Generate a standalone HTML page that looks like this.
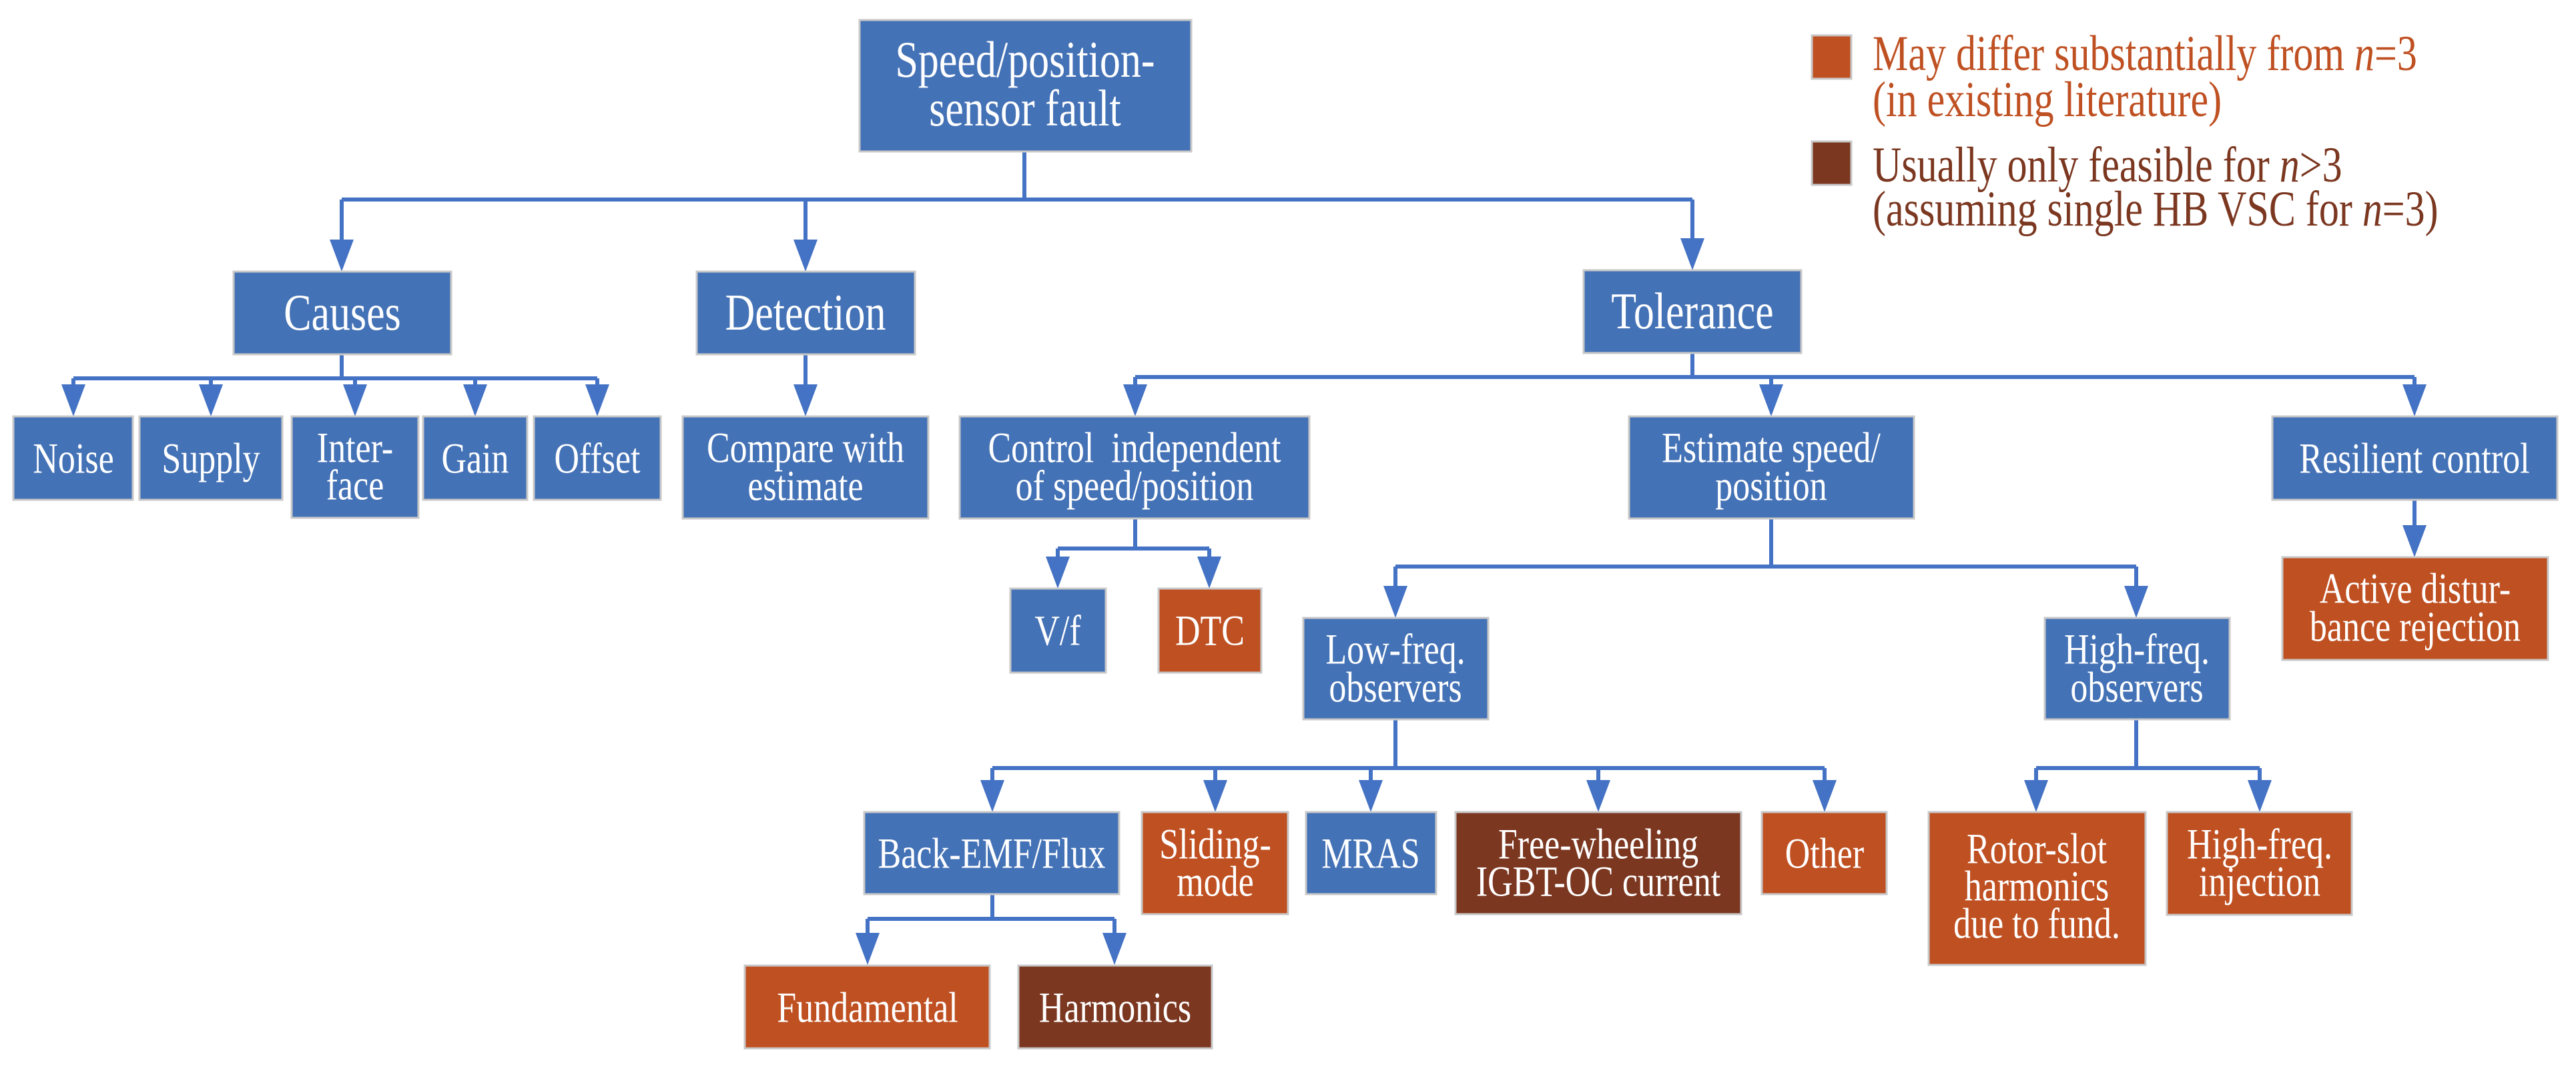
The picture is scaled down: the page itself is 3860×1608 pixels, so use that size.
<!DOCTYPE html>
<html><head><meta charset="utf-8"><style>
html,body{margin:0;padding:0;background:#fff;}
svg{display:block;}
text{font-family:"Liberation Serif",serif;transform-box:fill-box;transform-origin:center;transform:scaleY(1.25);}
</style></head><body>
<svg width="3860" height="1608" viewBox="0 0 3860 1608" xmlns="http://www.w3.org/2000/svg" font-family="'Liberation Serif', serif">
<defs>
<style>
.b{fill:#4472B6;stroke:#c8c8c8;stroke-width:3}
.o{fill:#BF5022;stroke:#c8c8c8;stroke-width:3}
.d{fill:#7B3720;stroke:#c8c8c8;stroke-width:3}
.l{stroke:#4472C4;stroke-width:6;fill:none}
.a{fill:#4472C4}
.t{fill:#fff;font-size:52px;text-anchor:middle;font-family:"Liberation Serif",serif}
.T{fill:#fff;font-size:62px;text-anchor:middle;font-family:"Liberation Serif",serif}
</style>
</defs>
<g class="l">
<path d="M1535 227V299M512 299H2536M512 299V360M1207 299V360M2536 299V358"/>
<path d="M512 531V567M110 567H895M110 567V577M316 567V577M532 567V577M712 567V577M895 567V577"/>
<path d="M1207 531V577"/>
<path d="M2536 529V565M1701 565H3618M1701 565V577M2654 565V577M3618 565V577"/>
<path d="M1701 777V822M1585 822H1812M1585 822V835M1812 822V835"/>
<path d="M2654 777V849M2091 849H3201M2091 849V879M3201 849V879"/>
<path d="M3618 749V788"/>
<path d="M2091 1078V1151M1487 1151H2734M1487 1151V1170M1821 1151V1170M2054 1151V1170M2395 1151V1170M2734 1151V1170"/>
<path d="M3201 1078V1151M3051 1151H3386M3051 1151V1170M3386 1151V1170"/>
<path d="M1487 1340V1377M1300 1377H1670M1300 1377V1399M1670 1377V1399"/>
</g>
<g class="a">
<polygon points="494,359 530,359 512,407"/>
<polygon points="1189,359 1225,359 1207,407"/>
<polygon points="2518,357 2554,357 2536,405"/>
<polygon points="92,576 128,576 110,624"/>
<polygon points="298,576 334,576 316,624"/>
<polygon points="514,576 550,576 532,624"/>
<polygon points="694,576 730,576 712,624"/>
<polygon points="877,576 913,576 895,624"/>
<polygon points="1189,576 1225,576 1207,624"/>
<polygon points="1683,576 1719,576 1701,624"/>
<polygon points="2636,576 2672,576 2654,624"/>
<polygon points="3600,576 3636,576 3618,624"/>
<polygon points="1567,834 1603,834 1585,882"/>
<polygon points="1794,834 1830,834 1812,882"/>
<polygon points="2073,878 2109,878 2091,926"/>
<polygon points="3183,878 3219,878 3201,926"/>
<polygon points="3600,787 3636,787 3618,835"/>
<polygon points="1469,1169 1505,1169 1487,1217"/>
<polygon points="1803,1169 1839,1169 1821,1217"/>
<polygon points="2036,1169 2072,1169 2054,1217"/>
<polygon points="2377,1169 2413,1169 2395,1217"/>
<polygon points="2716,1169 2752,1169 2734,1217"/>
<polygon points="3033,1169 3069,1169 3051,1217"/>
<polygon points="3368,1169 3404,1169 3386,1217"/>
<polygon points="1282,1398 1318,1398 1300,1446"/>
<polygon points="1652,1398 1688,1398 1670,1446"/>
</g>
<rect class="b" x="1288" y="30" width="497" height="197"/>
<text class="T" x="1536" y="110">Speed/position-</text>
<text class="T" x="1536" y="183">sensor fault</text>

<rect class="b" x="350" y="407" width="326" height="124"/>
<text class="T" x="513" y="489">Causes</text>
<rect class="b" x="1044" y="407" width="327" height="124"/>
<text class="T" x="1207" y="489">Detection</text>
<rect class="b" x="2373" y="405" width="326" height="124"/>
<text class="T" x="2536" y="487">Tolerance</text>

<rect class="b" x="20" y="624" width="179" height="125"/>
<text class="t" x="110" y="704">Noise</text>
<rect class="b" x="209" y="624" width="214" height="125"/>
<text class="t" x="316" y="704">Supply</text>
<rect class="b" x="437" y="624" width="190" height="152"/>
<text class="t" x="532" y="688">Inter-</text>
<text class="t" x="532" y="744">face</text>
<rect class="b" x="634" y="624" width="156" height="125"/>
<text class="t" x="712" y="704">Gain</text>
<rect class="b" x="800" y="624" width="190" height="125"/>
<text class="t" x="895" y="704">Offset</text>

<rect class="b" x="1023" y="624" width="368" height="153"/>
<text class="t" x="1207" y="688">Compare with</text>
<text class="t" x="1207" y="745">estimate</text>
<rect class="b" x="1438" y="624" width="524" height="153"/>
<text class="t" x="1700" y="688" xml:space="preserve">Control  independent</text>
<text class="t" x="1700" y="745">of speed/position</text>
<rect class="b" x="2441" y="624" width="427" height="153"/>
<text class="t" x="2654" y="688">Estimate speed/</text>
<text class="t" x="2654" y="745">position</text>
<rect class="b" x="3405" y="624" width="427" height="125"/>
<text class="t" x="3618" y="704">Resilient control</text>

<rect class="b" x="1514" y="882" width="143" height="126"/>
<text class="t" x="1585" y="962">V/f</text>
<rect class="o" x="1736" y="882" width="154" height="126"/>
<text class="t" x="1813" y="962">DTC</text>

<rect class="b" x="1953" y="926" width="277" height="152"/>
<text class="t" x="2091" y="990">Low-freq.</text>
<text class="t" x="2091" y="1047">observers</text>
<rect class="b" x="3064" y="926" width="277" height="152"/>
<text class="t" x="3202" y="990">High-freq.</text>
<text class="t" x="3202" y="1047">observers</text>
<rect class="o" x="3420" y="835" width="398" height="154"/>
<text class="t" x="3619" y="899">Active distur-</text>
<text class="t" x="3619" y="956">bance rejection</text>

<rect class="b" x="1295" y="1217" width="382" height="123"/>
<text class="t" x="1486" y="1296">Back-EMF/Flux</text>
<rect class="o" x="1711" y="1217" width="219" height="153"/>
<text class="t" x="1821" y="1282">Sliding-</text>
<text class="t" x="1821" y="1338">mode</text>
<rect class="b" x="1957" y="1217" width="195" height="123"/>
<text class="t" x="2054" y="1296">MRAS</text>
<rect class="d" x="2181" y="1217" width="428" height="153"/>
<text class="t" x="2395" y="1282">Free-wheeling</text>
<text class="t" x="2395" y="1338">IGBT-OC current</text>
<rect class="o" x="2640" y="1217" width="187" height="123"/>
<text class="t" x="2734" y="1296">Other</text>
<rect class="o" x="2890" y="1217" width="325" height="229"/>
<text class="t" x="3052" y="1289">Rotor-slot</text>
<text class="t" x="3052" y="1345">harmonics</text>
<text class="t" x="3052" y="1401">due to fund.</text>
<rect class="o" x="3247" y="1217" width="277" height="154"/>
<text class="t" x="3386" y="1282">High-freq.</text>
<text class="t" x="3386" y="1338">injection</text>

<rect class="o" x="1116" y="1447" width="367" height="124"/>
<text class="t" x="1300" y="1527">Fundamental</text>
<rect class="d" x="1526" y="1447" width="290" height="124"/>
<text class="t" x="1671" y="1527">Harmonics</text>

<rect class="o" x="2715" y="53" width="59" height="65"/>
<rect class="d" x="2715" y="212" width="59" height="65"/>
<g font-size="60" font-family="'Liberation Serif', serif">
<text x="2806" y="100" fill="#BF5022">May differ substantially from <tspan font-style="italic">n</tspan>=3</text>
<text x="2806" y="169" fill="#BF5022">(in existing literature)</text>
<text x="2806" y="267" fill="#7B3720">Usually only feasible for <tspan font-style="italic">n</tspan>&gt;3</text>
<text x="2806" y="333" fill="#7B3720">(assuming single HB VSC for <tspan font-style="italic">n</tspan>=3)</text>
</g>
</svg>
</body></html>
